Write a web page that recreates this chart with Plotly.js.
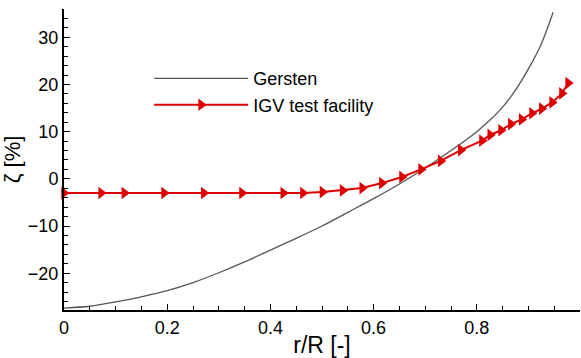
<!DOCTYPE html>
<html>
<head>
<meta charset="utf-8">
<script src="https://cdn.plot.ly/plotly-3.0.1.min.js"></script>
<style>html,body{margin:0;padding:0;background:#fff;}#chart{width:581px;height:358px;}</style>
</head>
<body>
<div id="chart"></div>
<script>
// Gersten model curve
const gerstenX = [0, 0.05, 0.1, 0.15, 0.2, 0.25, 0.3, 0.35, 0.4, 0.45, 0.5, 0.55, 0.6, 0.65, 0.7, 0.75, 0.8, 0.825, 0.85, 0.875, 0.9, 0.925, 0.948];
const gerstenY = [-27.4, -27.0, -26.1, -25.0, -23.7, -22.0, -19.9, -17.6, -15.1, -12.6, -10.0, -7.1, -4.2, -1.1, 2.3, 6.0, 10.0, 12.4, 15.2, 18.8, 23.3, 28.6, 35.3];
// IGV test facility measurements
const igvX = [0, 0.072, 0.117, 0.194, 0.271, 0.345, 0.425, 0.463, 0.501, 0.54, 0.578, 0.616, 0.655, 0.692, 0.73, 0.769, 0.81, 0.826, 0.847, 0.866, 0.887, 0.907, 0.926, 0.946, 0.965, 0.977];
const igvY = [-3.0, -3.0, -3.0, -3.0, -3.0, -3.0, -3.0, -3.0, -2.8, -2.45, -1.95, -0.9, 0.4, 2.0, 3.8, 6.1, 8.1, 9.3, 10.3, 11.6, 12.6, 13.9, 14.9, 16.2, 18.1, 20.3];
const seriesNames = ['Gersten', 'IGV test facility'];
const xTicks = [0, 0.2, 0.4, 0.6, 0.8, 1];
const xTickText = ['0', '0.2', '0.4', '0.6', '0.8', '1'];
const yTicks = [-20, -10, 0, 10, 20, 30];

const FONT = 'Liberation Sans, Arial, sans-serif';

const traces = [
  {x: gerstenX, y: gerstenY, name: seriesNames[0], mode: 'lines', type: 'scatter',
   line: {color: '#555555', width: 1.3, shape: 'spline', smoothing: 0.8}},
  {x: igvX, y: igvY, name: seriesNames[1], mode: 'lines+markers', type: 'scatter',
   line: {color: '#dd0000', width: 2},
   marker: {symbol: 'triangle-right', size: 11, color: '#dd0000'},
   cliponaxis: false}
];

const layout = {
  width: 581, height: 358,
  margin: {l: 64, r: 1, t: 9, b: 48},
  paper_bgcolor: '#fff', plot_bgcolor: '#fff',
  font: {family: FONT, size: 18, color: '#000'},
  showlegend: true,
  legend: {x: 0.165, y: 0.83, xanchor: 'left', yanchor: 'top', bgcolor: 'rgba(0,0,0,0)',
           font: {family: FONT, size: 18, color: '#000'}, itemwidth: 94, tracegroupgap: 0},
  xaxis: {range: [0, 1], showgrid: false, zeroline: false, showline: true, linecolor: '#000', linewidth: 2,
          ticks: 'inside', ticklen: 6, tickwidth: 1, tickcolor: '#000',
          tickvals: xTicks, ticktext: xTickText, tickfont: {family: FONT, size: 18},
          minor: {dtick: 0.05, ticks: 'inside', ticklen: 4, tickcolor: '#000', tickwidth: 1},
          title: {text: 'r/R [-]', font: {family: FONT, size: 23}, standoff: 2}},
  yaxis: {range: [-27.8, 36], showgrid: false, zeroline: false, showline: true, linecolor: '#000', linewidth: 2,
          ticks: 'inside', ticklen: 6, tickwidth: 1, tickcolor: '#000',
          tickvals: yTicks, tickfont: {family: FONT, size: 18},
          minor: {dtick: 2, ticks: 'inside', ticklen: 4, tickcolor: '#000', tickwidth: 1},
          title: {text: 'ζ [%]', font: {family: FONT, size: 22}, standoff: 4}}
};

Plotly.newPlot('chart', traces, layout, {displayModeBar: false, staticPlot: true});
</script>
</body>
</html>
